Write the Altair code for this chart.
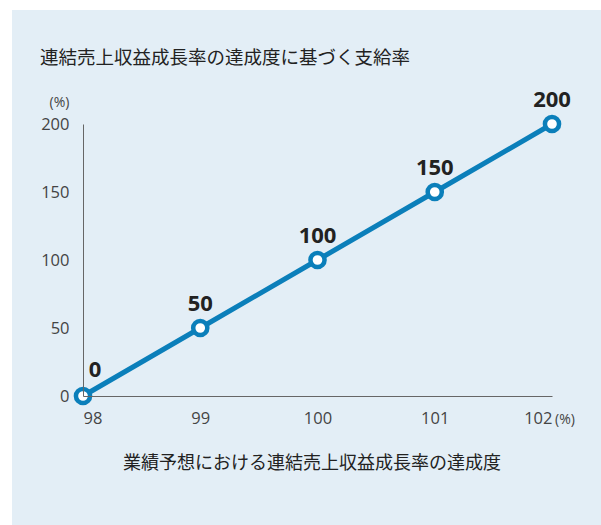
import altair as alt
import pandas as pd

achievement = [98, 99, 100, 101, 102]
payout = [0, 50, 100, 150, 200]

df = pd.DataFrame({"x": achievement, "y": payout})
FONT = "Noto Sans CJK JP"
NUMFONT = "Open Sans"
BLUE = "#0b7fba"

W, H = 469, 272
PL, PT = 83, 124

bg = alt.Chart(pd.DataFrame({"a": [0]})).mark_rect(fill="#e3eef6").encode(
    x=alt.value(12 - PL), x2=alt.value(601 - PL),
    y=alt.value(10 - PT), y2=alt.value(525 - PT),
)

xs = alt.X("x:Q", scale=alt.Scale(domain=[98, 102], nice=False),
           axis=alt.Axis(values=achievement, format="d", title="業績予想における連結売上収益成長率の達成度",
                         titleFontSize=18, titleFontWeight="normal", titleColor="#222",
                         titleX=W / 2 - 6, titleY=58, titleFont=FONT,
                         labelPadding=14, labelFontSize=16.5, labelColor="#444",
                         ticks=False, domainColor="#666", grid=False, labelFont=NUMFONT, zindex=1))
ys = alt.Y("y:Q", scale=alt.Scale(domain=[0, 200], nice=False),
           axis=alt.Axis(values=[0, 50, 100, 150, 200], title="(%)", titleAngle=0,
                         titleX=-24, titleY=-15, titleFontSize=14, titleFontWeight="normal",
                         titleColor="#444", titleFont=NUMFONT, titleAlign="center",
                         labelPadding=14, labelFontSize=16.5, labelColor="#444",
                         ticks=False, domainColor="#666", grid=False, labelFont=NUMFONT, zindex=1))

line = alt.Chart(df).mark_line(color=BLUE, strokeWidth=5).encode(x=xs, y=ys)
pts = alt.Chart(df).mark_point(filled=True, fill="white", stroke=BLUE, strokeWidth=4.5,
                               size=200, opacity=1).encode(x="x:Q", y="y:Q")
labels = alt.Chart(df).transform_filter("datum.x > 98").mark_text(
    font=NUMFONT, fontSize=22, fontWeight="bold", color="#222", dy=-24
).encode(x="x:Q", y="y:Q", text="y:Q")
label0 = alt.Chart(df).transform_filter("datum.x == 98").mark_text(
    font=NUMFONT, fontSize=22, fontWeight="bold", color="#222", dy=-26, dx=12
).encode(x="x:Q", y="y:Q", text="y:Q")
unit = alt.Chart(pd.DataFrame({"t": ["(%)"]})).mark_text(
    font=NUMFONT, fontSize=14, color="#444", align="left"
).encode(x=alt.value(W + 3), y=alt.value(H + 24), text="t:N")
title = alt.Chart(pd.DataFrame({"t": ["連結売上収益成長率の達成度に基づく支給率"]})).mark_text(
    font=FONT, fontSize=18.5, color="#222", align="left"
).encode(x=alt.value(40 - PL), y=alt.value(58 - PT), text="t:N")

chart = alt.layer(bg, line, pts, labels, label0, unit, title).properties(
    width=W, height=H,
    autosize=alt.AutoSizeParams(type="none"),
    padding={"left": PL, "top": PT, "right": 601 - PL - W, "bottom": 525 - PT - H},
    background="white",
).configure_view(stroke=None)

chart.save("out.html", embed_options={"renderer": "svg", "actions": False})
